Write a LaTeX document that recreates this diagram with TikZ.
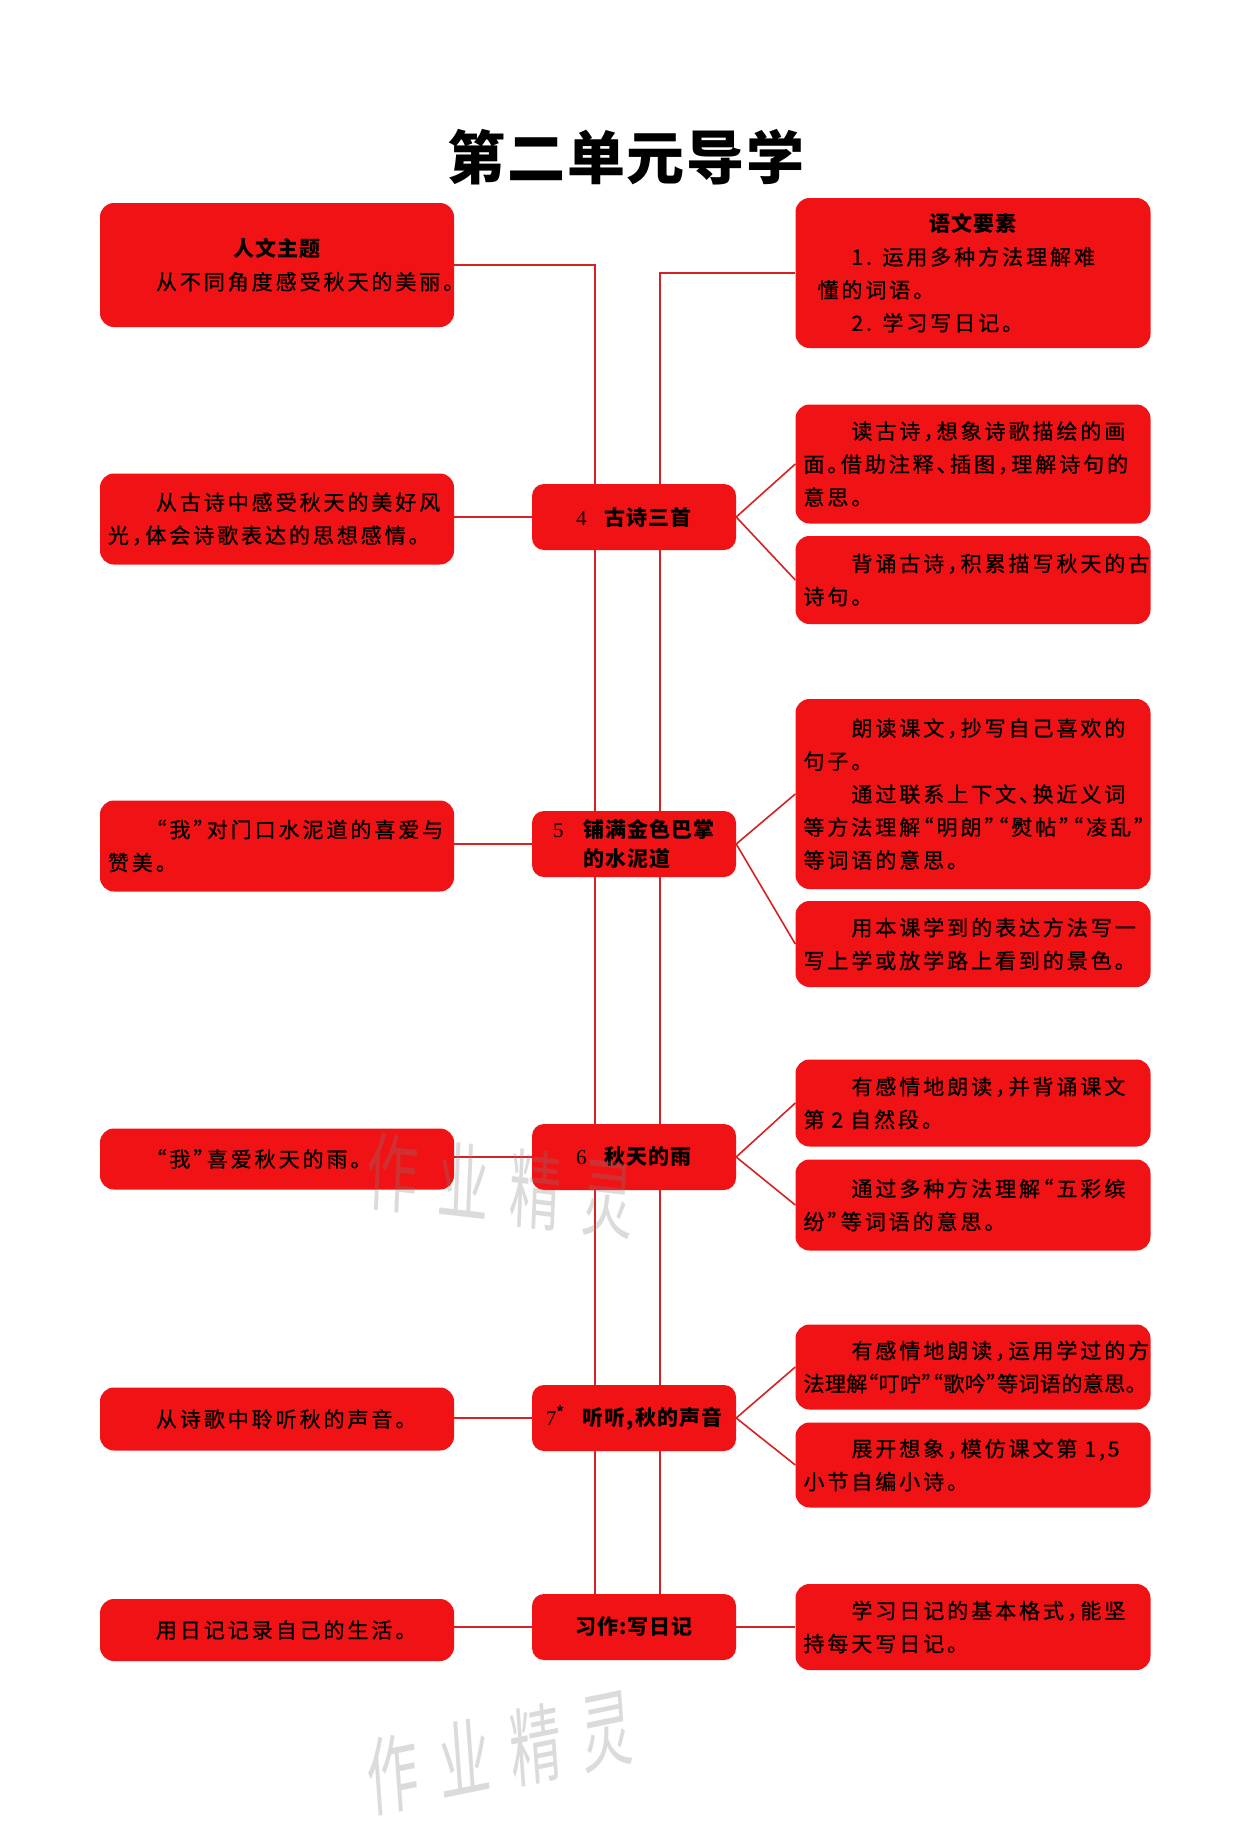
\documentclass[tikz,border=0pt]{standalone}
\usepackage{fontspec}
\usetikzlibrary{backgrounds}
\newfontfamily\cjk{Noto Sans CJK SC}[LetterSpace=14,RawFeature=+halt,FakeBold=0.8]
\newfontfamily\cjkn{Noto Sans CJK SC}[LetterSpace=2,RawFeature=+halt,FakeBold=0.8]
\newfontfamily\cjkm{Noto Sans CJK SC}[LetterSpace=5,RawFeature=+halt]
\newfontfamily\cjkt{Noto Sans CJK SC}[LetterSpace=3]
\newfontfamily\numf{Liberation Serif}
\definecolor{boxred}{RGB}{240,18,20}
\definecolor{linered}{RGB}{214,34,34}
\newcommand{\bodyf}{\cjk\fontsize{21}{33}\selectfont}
\newcommand{\midf}{\cjkm\bfseries\fontsize{21}{29}\selectfont}
\newcommand{\myind}{\hspace*{48pt}}
\newcommand{\hd}[1]{\makebox[\linewidth][c]{\cjkm\bfseries\fontsize{21}{33}\selectfont #1}}
\newcommand{\nm}[1]{{\numf\mdseries #1}}
\tikzset{
  redbox/.style={fill=boxred, rounded corners=14pt, inner xsep=8pt, inner ysep=3pt, align=left, text=black},
  leftbox/.style={redbox, text width=338pt, font=\bodyf},
  rightbox/.style={redbox, text width=339pt, font=\bodyf},
  midbox/.style={fill=boxred, rounded corners=12pt, minimum width=204pt, minimum height=66pt, align=left, inner sep=2pt, font=\midf},
  conn/.style={draw=linered, line width=1.6pt},
  wmark/.style={text=gray, opacity=0.28, font=\cjkt\fontsize{86}{86}\selectfont, xscale=0.6}
}
\begin{document}
\begin{tikzpicture}[x=1pt,y=-1pt]
\useasboundingbox (0,0) rectangle (1250,1847);
% title
\node[font=\cjkt\bfseries\fontsize{58}{60}\selectfont] (title) at (626,157) {第二单元导学};
% left column
\node[leftbox, minimum height=124pt] (L1) at (277,265) {\hd{人文主题}\\ \myind 从不同角度感受秋天的美丽。};
\node[leftbox, minimum height=91pt] (L2) at (277,519) {\myind 从古诗中感受秋天的美好风\\ 光，体会诗歌表达的思想感情。};
\node[leftbox, minimum height=91pt] (L3) at (277,846) {\myind “我”对门口水泥道的喜爱与\\ 赞美。};
\node[leftbox, minimum height=61pt] (L4) at (277,1159) {\myind “我”喜爱秋天的雨。};
\node[leftbox, minimum height=63pt] (L5) at (277,1419) {\myind 从诗歌中聆听秋的声音。};
\node[leftbox, minimum height=62pt] (L6) at (277,1630) {\myind 用日记记录自己的生活。};
% middle column
\node[midbox] (M4) at (634,517) {\nm{4}\hspace{18pt}古诗三首};
\node[midbox] (M5) at (634,844) {\nm{5}\hspace{20pt}铺满金色巴掌\\ \hphantom{\nm{5}\hspace{20pt}}的水泥道};
\node[midbox] (M6) at (634,1157) {\nm{6}\hspace{18pt}秋天的雨};
\node[midbox] (M7) at (634,1418) {\nm{7}\textsuperscript{*}\hspace{18pt}听听,秋的声音};
\node[midbox] (M8) at (634,1627) {习作:写日记};
% right column
\node[rightbox, minimum height=150pt] (R0) at (973,273) {\hd{语文要素}\\ \myind 1. 运用多种方法理解难\\ \hspace*{14pt}懂的词语。\\ \myind 2. 学习写日记。};
\node[rightbox, minimum height=119pt] (R1) at (973,464) {\myind 读古诗，想象诗歌描绘的画\\ 面。借助注释、插图，理解诗句的\\ 意思。};
\node[rightbox, minimum height=88pt] (R2) at (973,580) {\myind 背诵古诗，积累描写秋天的古\\ 诗句。};
\node[rightbox, minimum height=190pt] (R3) at (973,794) {\myind 朗读课文，抄写自己喜欢的\\ 句子。\\ \myind 通过联系上下文、换近义词\\ 等方法理解“明朗”“熨帖”“凌乱”\\ 等词语的意思。};
\node[rightbox, minimum height=86pt] (R4) at (973,944) {\myind 用本课学到的表达方法写一\\ 写上学或放学路上看到的景色。};
\node[rightbox, minimum height=87pt] (R5) at (973,1103) {\myind 有感情地朗读，并背诵课文\\ 第 2 自然段。};
\node[rightbox, minimum height=91pt] (R6) at (973,1205) {\myind 通过多种方法理解“五彩缤\\ 纷”等词语的意思。};
\node[rightbox, minimum height=85pt] (R7) at (973,1367) {\myind 有感情地朗读，运用学过的方\\ {\cjkn 法理解“叮咛”“歌吟”等词语的意思。}};
\node[rightbox, minimum height=85pt] (R8) at (973,1465) {\myind 展开想象，模仿课文第 1,5\\ 小节自编小诗。};
\node[rightbox, minimum height=86pt] (R9) at (973,1627) {\myind 学习日记的基本格式，能坚\\ 持每天写日记。};
% connectors behind the boxes
\coordinate (VL) at (595,0);
\coordinate (VR) at (660,0);
\begin{scope}[on background layer]
  \fill[white] (0,0) rectangle (1250,1847);
  \draw[conn] (L1.east) -| (VL |- M8.north);
  \draw[conn] (R0.west) -| (VR |- M8.north);
  \draw[conn] (M4.west) -- (M4.west -| L2.east);
  \draw[conn] (M5.west) -- (M5.west -| L3.east);
  \draw[conn] (M6.west) -- (M6.west -| L4.east);
  \draw[conn] (M7.west) -- (M7.west -| L5.east);
  \draw[conn] (M8.west) -- (M8.west -| L6.east);
  \draw[conn] (M4.east) -- (R1.west);
  \draw[conn] (M4.east) -- (R2.west);
  \draw[conn] (M5.east) -- (R3.west);
  \draw[conn] (M5.east) -- (R4.west);
  \draw[conn] (M6.east) -- (R5.west);
  \draw[conn] (M6.east) -- (R6.west);
  \draw[conn] (M7.east) -- (R7.west);
  \draw[conn] (M7.east) -- (R8.west);
  \draw[conn] (M8.east) -- (M8.east -| R9.west);
\end{scope}
% watermarks
\node[wmark, rotate=-4] (wm1) at (500,1186) {作\hspace{34pt}业\hspace{34pt}精\hspace{34pt}灵};
\node[wmark, rotate=7] (wm2) at (500,1752) {作\hspace{34pt}业\hspace{34pt}精\hspace{34pt}灵};
\end{tikzpicture}
\end{document}
